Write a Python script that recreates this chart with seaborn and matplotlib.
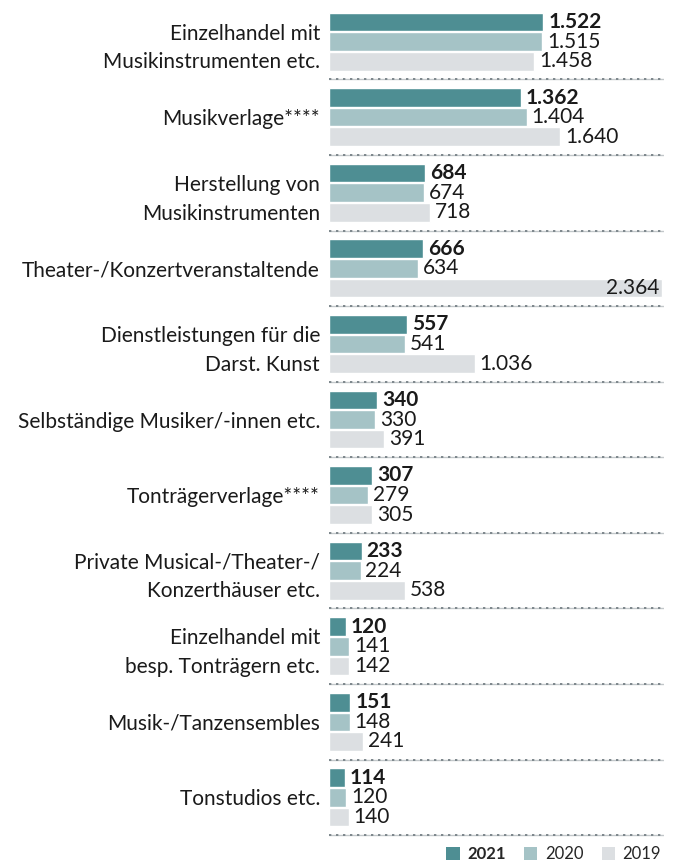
import pandas as pd
import seaborn as sns
import matplotlib.pyplot as plt
from matplotlib.patches import Patch

# Data
categories = [
    "Einzelhandel mit\nMusikinstrumenten etc.",
    "Musikverlage****",
    "Herstellung von\nMusikinstrumenten",
    "Theater-/Konzertveranstaltende",
    "Dienstleistungen für die\nDarst. Kunst",
    "Selbständige Musiker/-innen etc.",
    "Tonträgerverlage****",
    "Private Musical-/Theater-/\nKonzerthäuser etc.",
    "Einzelhandel mit\nbesp. Tonträgern etc.",
    "Musik-/Tanzensembles",
    "Tonstudios etc.",
]
years = ["2021", "2020", "2019"]
v2021 = [1522, 1362, 684, 666, 557, 340, 307, 233, 120, 151, 114]
v2020 = [1515, 1404, 674, 634, 541, 330, 279, 224, 141, 148, 120]
v2019 = [1458, 1640, 718, 2364, 1036, 391, 305, 538, 142, 241, 140]
colors = ["#4e8e93", "#a5c3c6", "#dcdfe2"]

df = pd.DataFrame({
    "cat": categories * 3,
    "year": [y for y in years for _ in categories],
    "value": v2021 + v2020 + v2019,
})

sns.set_style("white")
plt.rcParams["font.family"] = ["Lato", "DejaVu Sans"]
FS = 15

fig = plt.figure(figsize=(6.76, 8.65), dpi=100)
ax = fig.add_axes([329 / 676, 1 - 839 / 865, (664 - 329) / 676, 839 / 865])

sns.barplot(data=df, y="cat", x="value", hue="year", orient="h",
            palette=colors, saturation=1, width=0.78, gap=0.05,
            legend=False, ax=ax)

ax.set_xlim(0, 2380)
ax.set_ylim(10.55, -0.55)
ax.set_xlabel("")
ax.set_ylabel("")
ax.set_xticks([])
sns.despine(ax=ax, left=True, bottom=True)
ax.tick_params(axis="y", length=0, pad=6.5)
for lbl in ax.get_yticklabels():
    lbl.set_fontsize(FS)
    lbl.set_linespacing(1.55)
    lbl.set_color("#1a1a1a")


def de(v):
    return f"{v:,}".replace(",", ".")


vmax = max(v2019)
for i, cont in enumerate(ax.containers):
    for bar in cont:
        w = bar.get_width()
        y = bar.get_y() + bar.get_height() / 2
        if w == vmax:
            ax.text(w - 15, y, de(int(w)), ha="right", va="center",
                    fontsize=FS, color="#1a1a1a")
        else:
            ax.text(w + 35, y, de(int(w)), ha="left", va="center",
                    fontsize=FS, color="#1a1a1a",
                    fontweight="bold" if i == 0 else "normal")

# dashed separators below each group
for k in range(len(categories)):
    ax.axhline(k + 0.5, color="#c2c7ca", lw=1.0, zorder=0)
    ax.axhline(k + 0.5, color="#7d878c", lw=1.4, ls=(0, (1.2, 2.4)), zorder=0)

handles = [Patch(facecolor=c, edgecolor="none") for c in colors]
leg = fig.legend(handles, years, loc="center right", bbox_to_anchor=(661 / 676, 1 - 854 / 865),
                 ncol=3, frameon=False, fontsize=12, handlelength=0.8, handleheight=0.8,
                 handletextpad=0.45, columnspacing=1.1, borderaxespad=0, borderpad=0)
leg.get_texts()[0].set_fontweight("bold")

fig.savefig("out.png", dpi=100)
